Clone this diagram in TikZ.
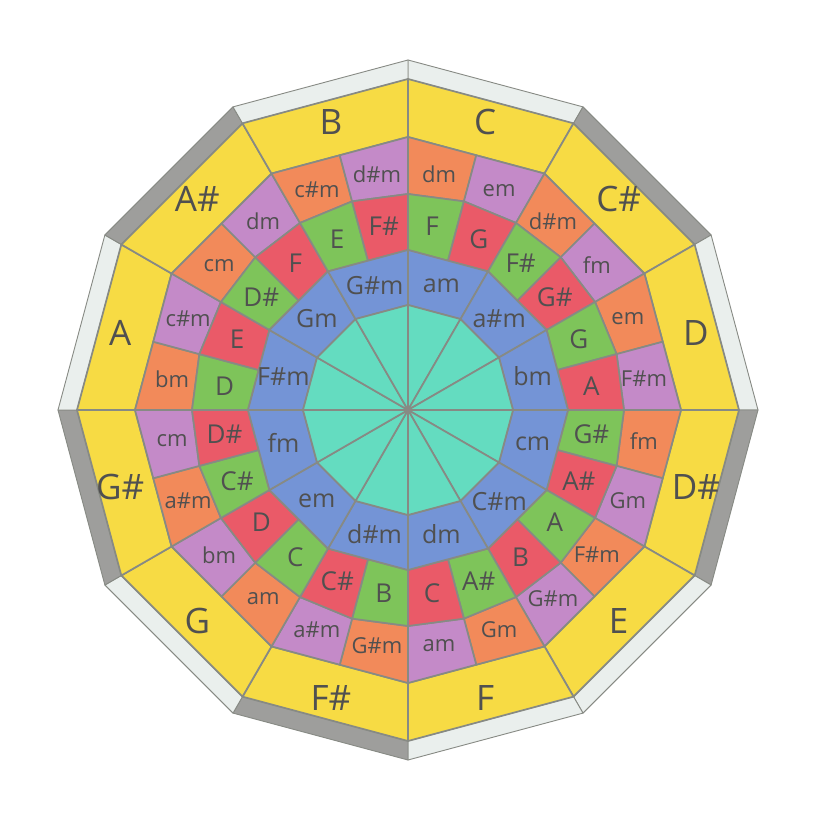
\documentclass[tikz,border=0pt]{standalone}
\usepackage{fontspec}
\setmainfont{Open Sans}
\definecolor{cYel}{RGB}{247,219,68}
\definecolor{cOrg}{RGB}{242,138,90}
\definecolor{cPur}{RGB}{196,138,200}
\definecolor{cGrn}{RGB}{126,196,90}
\definecolor{cRed}{RGB}{234,90,104}
\definecolor{cBlu}{RGB}{116,148,214}
\definecolor{cTea}{RGB}{100,220,192}
\definecolor{bevD}{RGB}{158,158,156}
\definecolor{bevL}{RGB}{234,239,237}
\definecolor{lineG}{RGB}{135,138,132}
\definecolor{txtG}{RGB}{80,80,80}
\tikzset{
  cell/.style={draw=lineG, line width=1.7pt, line join=round},
  bev/.style={draw=lineG, line width=0.9pt, line join=round},
  lbl/.style={text=txtG, inner sep=0pt},
  bigl/.style={lbl, font=\fontsize{35}{35}\selectfont},
  sml/.style={lbl, font=\fontsize{22}{22}\selectfont},
  mdl/.style={lbl, font=\fontsize{26}{26}\selectfont},
  bll/.style={lbl, font=\fontsize{25}{25}\selectfont}
}
\begin{document}
\begin{tikzpicture}[x=1pt,y=1pt]
\useasboundingbox (-408,-414) rectangle (416,410);
\def\RO{350}\def\RB{331}\def\RY{273}\def\RC{216}\def\RD{160}\def\RT{105}
\foreach \k/\bc/\maj/\iia/\iiia/\iv/\v/\vi in {
 0/bevL/C/dm/em/F/G/am,
 1/bevD/C\#/d\#m/fm/F\#/G\#/a\#m,
 2/bevL/D/em/F\#m/G/A/bm,
 3/bevD/D\#/fm/Gm/G\#/A\#/cm,
 4/bevL/E/F\#m/G\#m/A/B/C\#m,
 5/bevL/F/Gm/am/A\#/C/dm,
 6/bevD/F\#/G\#m/a\#m/B/C\#/d\#m,
 7/bevL/G/am/bm/C/D/em,
 8/bevD/G\#/a\#m/cm/C\#/D\#/fm,
 9/bevL/A/bm/c\#m/D/E/F\#m,
 10/bevD/A\#/cm/dm/D\#/F/Gm,
 11/bevL/B/c\#m/d\#m/E/F\#/G\#m}{
  \pgfmathsetmacro\a{90-30*\k}
  \pgfmathsetmacro\m{\a-15}
  \pgfmathsetmacro\b{\a-30}
  \pgfmathsetmacro\p{\a-7.5}
  \pgfmathsetmacro\q{\a-22.5}
  \pgfmathsetmacro\rym{\RY*cos(15)}
  \pgfmathsetmacro\rdm{\RD*cos(15)}
  % bevel strip
  \filldraw[bev, fill=\bc] (\a:\RO) -- (\b:\RO) -- (\b:\RB) -- (\a:\RB) -- cycle;
  % key ring
  \filldraw[cell, fill=cYel] (\a:\RB) -- (\b:\RB) -- (\b:\RY) -- (\a:\RY) -- cycle;
  % ii / iii ring
  \filldraw[cell, fill=cOrg] (\a:\RY) -- (\m:\rym) -- (\m:\RC) -- (\a:\RC) -- cycle;
  \filldraw[cell, fill=cPur] (\m:\rym) -- (\b:\RY) -- (\b:\RC) -- (\m:\RC) -- cycle;
  % IV / V ring
  \filldraw[cell, fill=cGrn] (\a:\RC) -- (\m:\RC) -- (\m:\rdm) -- (\a:\RD) -- cycle;
  \filldraw[cell, fill=cRed] (\m:\RC) -- (\b:\RC) -- (\b:\RD) -- (\m:\rdm) -- cycle;
  % relative minor ring
  \filldraw[cell, fill=cBlu] (\a:\RD) -- (\b:\RD) -- (\b:\RT) -- (\a:\RT) -- cycle;
  % centre
  \filldraw[cell, fill=cTea] (0,0) -- (\a:\RT) -- (\b:\RT) -- cycle;
  % labels
  \node[bigl] (Y\k) at (\m:298) {\maj};
  \node[sml] (P\k) at (\p:238) {\iia};
  \node[sml] (Q\k) at (\q:238) {\iiia};
  \node[mdl] (G\k) at (\p:185) {\iv};
  \node[mdl] (R\k) at (\q:185) {\v};
  \node[bll] (B\k) at (\m:129) {\vi};
}
\end{tikzpicture}
\end{document}
